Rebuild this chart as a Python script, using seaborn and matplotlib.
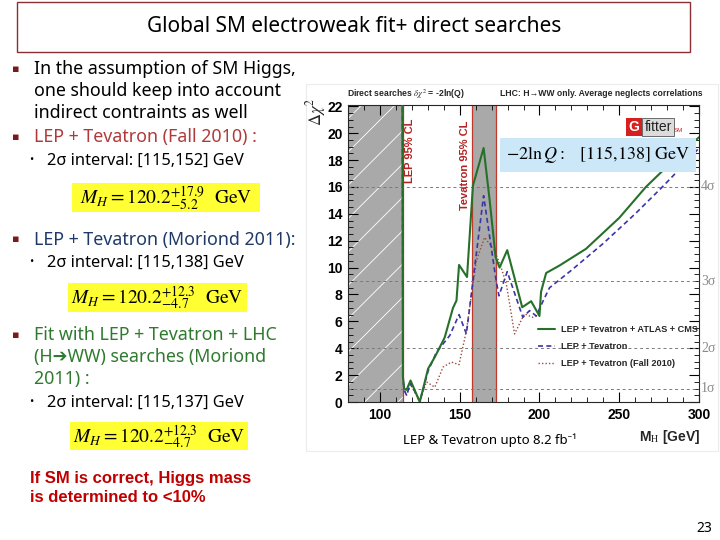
import numpy as np
import pandas as pd
import matplotlib
matplotlib.use("Agg")
import matplotlib.pyplot as plt
import matplotlib.patches as patches
from matplotlib.ticker import MultipleLocator
import seaborn as sns

# curve values (M_H in GeV, delta chi2)
green_mh = [114.0, 114.4, 115.2, 116.7, 119.2, 125.0, 130.2, 134.4, 140.6, 145.8, 148.0, 149.6,
            154.6, 158.3, 165.0, 168.8, 172.5, 175.0, 179.8, 189.2, 194.8, 200.0, 201.0, 204.2,
            212.5, 229.2, 250.0, 266.7, 285.0, 300.0]
green_chi2 = [30.0, 1.9, 1.0, 0.9, 1.6, 0.0, 2.48, 3.34, 4.8, 7.0, 7.55, 10.2,
              9.3, 16.1, 18.9, 15.0, 10.8, 10.0, 11.3, 7.05, 7.5, 6.4, 8.2, 9.6,
              10.15, 11.4, 13.7, 16.0, 18.1, 19.7]

blue_mh = [114.0, 114.4, 115.2, 116.7, 119.2, 125.0, 130.2, 135.4, 143.8, 149.6, 154.2, 158.3,
           165.0, 172.5, 174.6, 179.8, 189.6, 193.8, 198.0, 201.0, 206.3, 220.0, 240.0, 260.0,
           277.0, 290.0, 300.0]
blue_chi2 = [30.0, 1.8, 0.9, 0.5, 1.4, 0.05, 2.3, 3.7, 4.95, 6.5, 5.07, 9.0,
             15.35, 9.3, 7.9, 9.7, 6.3, 6.8, 6.4, 7.2, 8.5, 9.8, 11.8, 14.0,
             16.0, 17.6, 18.9]

red_mh = [114.4, 115.2, 116.7, 119.2, 125.0, 129.2, 134.4, 139.6, 144.8, 149.6, 154.2, 160.4,
          165.6, 171.9, 176.0, 179.2, 184.4, 190.6, 195.8, 200.0]
red_chi2 = [1.8, 0.9, 0.5, 1.3, 0.05, 1.5, 1.1, 2.6, 2.97, 2.78, 5.3, 10.5,
            12.25, 11.26, 10.0, 8.8, 5.07, 6.56, 6.3, 6.5]

series_labels = ["LEP + Tevatron + ATLAS + CMS", "LEP + Tevatron", "LEP + Tevatron (Fall 2010)"]
sigma_levels = [1, 4, 9, 16]
sigma_labels = ["1σ", "2σ", "3σ", "4σ"]
lep_limit = 114.4
tev_band = (158, 173)

W, H = 720, 540


def px(x, y):
    # slide pixel position -> figure fraction
    return x / W, 1 - y / H


sns.set_style("ticks")
plt.rcParams['font.family'] = ['Noto Sans', 'DejaVu Sans']
plt.rcParams['mathtext.fontset'] = 'stix'
plt.rcParams['hatch.linewidth'] = 0.6
plt.rcParams['hatch.color'] = 'white'

fig = plt.figure(figsize=(7.2, 5.4), dpi=100)

# ---------- title box ----------
fig.patches.append(patches.Rectangle(px(17, 52), 673 / W, 50 / H, transform=fig.transFigure,
                                     fill=False, edgecolor='#8c2f35', linewidth=1.0))
fig.text(*px(354, 27), "Global SM electroweak fit+ direct searches", ha='center', va='center',
         fontsize=15, color='black')

# ---------- left column text ----------
bullet_col = '#7a1a1a'
body = 12.8
sub = 11.8
for y in [69, 137, 240, 335]:
    fig.text(*px(16, y), "▪", ha='center', va='center', fontsize=8, color=bullet_col)
for y in [161, 263, 403]:
    fig.text(*px(31, y), "•", ha='center', va='center', fontsize=8, color='black')

lines = [
    (69, "In the assumption of SM Higgs,", 'black'),
    (91, "one should keep into account", 'black'),
    (113, "indirect contraints as well", 'black'),
    (137, "LEP + Tevatron (Fall 2010) :", '#b03a3a'),
    (240, "LEP + Tevatron (Moriond 2011):", '#1f3a68'),
    (335, "Fit with LEP + Tevatron + LHC", '#2f7a2f'),
    (357, "(H➔WW) searches (Moriond", '#2f7a2f'),
    (379, "2011) :", '#2f7a2f'),
]
for y, s, c in lines:
    fig.text(*px(34, y), s, ha='left', va='center', fontsize=body, color=c)

for y, s in [(161, "2σ interval: [115,152] GeV"), (263, "2σ interval: [115,138] GeV"),
             (403, "2σ interval: [115,137] GeV")]:
    fig.text(*px(47, y), s, ha='left', va='center', fontsize=sub, color='black')

# yellow result boxes
boxes = [
    ((72, 183, 188, 29), r'$M_H = 120.2^{+17.9}_{-5.2}\ \ \mathrm{GeV}$'),
    ((68, 283, 179, 29), r'$M_H = 120.2^{+12.3}_{-4.7}\ \ \mathrm{GeV}$'),
    ((70, 422, 178, 28), r'$M_H = 120.2^{+12.3}_{-4.7}\ \ \mathrm{GeV}$'),
]
for (x0, y0, w, h), s in boxes:
    fig.patches.append(patches.Rectangle(px(x0, y0 + h), w / W, h / H, transform=fig.transFigure,
                                         facecolor='#ffff33', edgecolor='none'))
    fig.text(*px(x0 + w / 2, y0 + h / 2 + 1), s, ha='center', va='center', fontsize=14, color='black')

fig.text(*px(30, 478), "If SM is correct, Higgs mass", ha='left', va='center', fontsize=12,
         fontweight='bold', color='#c00000', family=['Liberation Sans', 'DejaVu Sans'])
fig.text(*px(30, 498), "is determined to <10%", ha='left', va='center', fontsize=12,
         fontweight='bold', color='#c00000', family=['Liberation Sans', 'DejaVu Sans'])
fig.text(*px(712, 528), "23", ha='right', va='center', fontsize=10, color='black')

# faint frame of the pasted plot
fig.patches.append(patches.Rectangle(px(306, 451), 412 / W, 367 / H, transform=fig.transFigure,
                                     fill=False, edgecolor='#ececec', linewidth=0.8))

# ---------- chi2 plot ----------
ax = fig.add_axes([348 / W, 1 - 402 / H, 351 / W, 297 / H])
cfont = ['Liberation Sans', 'DejaVu Sans']

ax.axvspan(80, lep_limit, facecolor='#a9a9a9', hatch='/', edgecolor='white', linewidth=0, zorder=0)
ax.axvspan(*tev_band, facecolor='#a9a9a9', edgecolor='none', zorder=0)
for xv in [lep_limit, tev_band[0], tev_band[1]]:
    ax.axvline(xv, color='#c0392b', linewidth=0.9, zorder=1)

for lev in sigma_levels:
    ax.axhline(lev, color='#7a7a7a', linestyle=(0, (3, 3)), linewidth=0.7, zorder=1)

df_g = pd.DataFrame({'mh': green_mh, 'chi2': green_chi2})
df_b = pd.DataFrame({'mh': blue_mh, 'chi2': blue_chi2})
df_r = pd.DataFrame({'mh': red_mh, 'chi2': red_chi2})

sns.lineplot(data=df_r, x='mh', y='chi2', ax=ax, color='#9c4a3c', linewidth=1.0,
             linestyle=(0, (1, 1.5)), estimator=None, sort=False, zorder=3)
sns.lineplot(data=df_b, x='mh', y='chi2', ax=ax, color='#3a35a8', linewidth=1.2,
             linestyle=(0, (3, 2)), estimator=None, sort=False, zorder=4)
sns.lineplot(data=df_g, x='mh', y='chi2', ax=ax, color='#26702a', linewidth=1.5,
             estimator=None, sort=False, zorder=5)

handles = [ax.lines[-1], ax.lines[-2], ax.lines[-3]]
ax.legend(handles, series_labels, loc='upper left', bbox_to_anchor=(0.53, 0.27), frameon=False,
          prop=dict(family=cfont, weight='bold', size=6.6), handlelength=1.9,
          labelspacing=0.85, handletextpad=0.6, borderaxespad=0)

ax.set_xlim(80, 300)
ax.set_ylim(0, 22.1)
ax.xaxis.set_major_locator(MultipleLocator(50))
ax.xaxis.set_minor_locator(MultipleLocator(10))
ax.yaxis.set_major_locator(MultipleLocator(2))
ax.yaxis.set_minor_locator(MultipleLocator(0.5))
ax.tick_params(which='both', direction='in', top=True, right=True, colors='black')
ax.tick_params(which='major', length=7, width=0.8, labelsize=10, pad=4)
ax.tick_params(which='minor', length=3.5, width=0.6)
for lab in ax.get_xticklabels() + ax.get_yticklabels():
    lab.set_family(cfont)
    lab.set_fontweight('bold')
ax.set_xlabel("")
ax.set_ylabel("")
for sp in ax.spines.values():
    sp.set_linewidth(0.8)

# sigma labels on the right
for lev, s in zip(sigma_levels, sigma_labels):
    ax.text(1.006, lev, s, transform=ax.get_yaxis_transform(), ha='left', va='center',
            fontsize=10, color='#8a8a8a', family=['Liberation Serif', 'DejaVu Serif'])

# band labels
ax.text(119.0, 18.7, "LEP 95% CL", rotation=90, ha='center', va='center', fontsize=8,
        fontweight='bold', color='#b22222', family=cfont)
ax.text(153.3, 17.6, "Tevatron 95% CL", rotation=90, ha='center', va='center', fontsize=8,
        fontweight='bold', color='#b22222', family=cfont)

# header texts above the axes
fig.text(*px(347, 94), r'Direct searches $\delta\chi^2$ = -2ln(Q)', ha='left', va='center',
         fontsize=6.2, fontweight='bold', family=cfont)
fig.text(*px(702, 94), "LHC: H→WW only. Average neglects correlations", ha='right', va='center',
         fontsize=6.2, fontweight='bold', family=cfont)
fig.text(*px(316, 112), r'$\Delta\chi^2$', rotation=90, ha='center', va='center', fontsize=12)
fig.text(*px(700, 437), r'M$_\mathrm{H}$ [GeV]', ha='right', va='center', fontsize=10,
         fontweight='bold', family=cfont)
fig.text(*px(490, 440), "LEP & Tevatron upto 8.2 fb⁻¹", ha='center', va='center', fontsize=9.5,
         color='black')

# -2lnQ box
fig.text(*px(598, 155), r'$-2\ln Q:\ \ \ [115{,}138]\ \mathrm{GeV}$', ha='center', va='center',
         fontsize=13, color='black',
         bbox=dict(facecolor='#cce8f8', edgecolor='none', boxstyle='square,pad=0.35'))

# Gfitter logo
fig.text(*px(634, 127), "G", ha='center', va='center', fontsize=10, fontweight='bold', color='white',
         family=cfont, bbox=dict(facecolor='#d62020', edgecolor='none', boxstyle='square,pad=0.15'))
fig.text(*px(658, 127), "fitter", ha='center', va='center', fontsize=10, color='#222222',
         family=cfont, bbox=dict(facecolor='#dcdcdc', edgecolor='#555555', linewidth=0.6,
                                 boxstyle='square,pad=0.15'))
fig.text(*px(678, 130), "SM", ha='center', va='center', fontsize=4.5, color='#d62020', family=cfont)

fig.savefig("out.png", dpi=100)
